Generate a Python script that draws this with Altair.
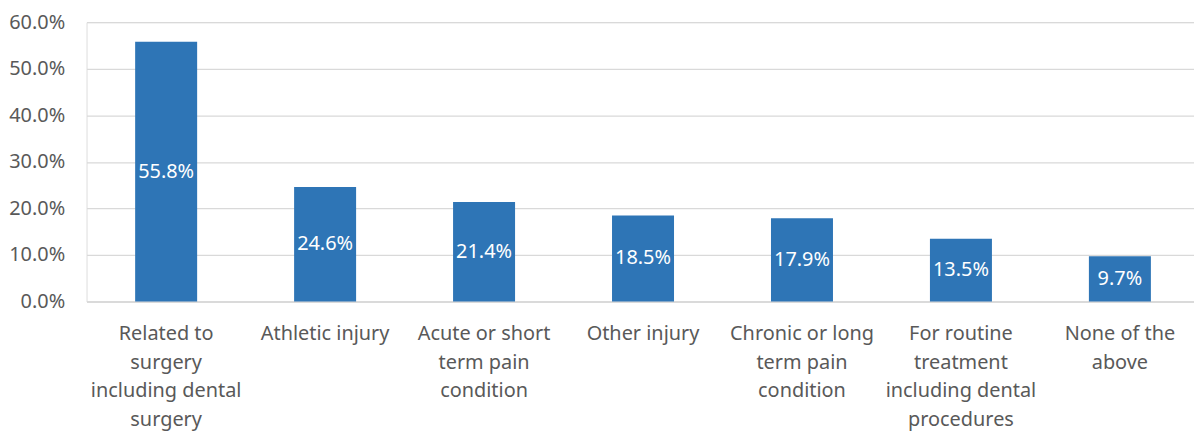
import altair as alt
import pandas as pd

categories = [
    "Related to surgery including dental surgery",
    "Athletic injury",
    "Acute or short term pain condition",
    "Other injury",
    "Chronic or long term pain condition",
    "For routine treatment including dental procedures",
    "None of the above",
]
wrapped = [
    "Related to|surgery|including dental|surgery",
    "Athletic injury",
    "Acute or short|term pain|condition",
    "Other injury",
    "Chronic or long|term pain|condition",
    "For routine|treatment|including dental|procedures",
    "None of the|above",
]
values = [0.558, 0.246, 0.214, 0.185, 0.179, 0.135, 0.097]

df = pd.DataFrame({"cat": wrapped, "val": values})
df["half"] = df["val"] / 2

FONT = "Noto Sans"
GREY = "#595959"
FS = 20

x = alt.X(
    "cat:N",
    sort=wrapped,
    scale=alt.Scale(paddingInner=0.61, paddingOuter=0.2885, align=0.53, round=False),
    axis=alt.Axis(
        title=None,
        labelExpr="split(datum.label, '|')",
        labelAngle=0,
        labelFontSize=FS,
        labelFont=FONT,
        labelColor=GREY,
        labelPadding=22,
        labelLineHeight=29,
        labelBaseline="top",
        ticks=False,
        domainColor="#D9D9D9",
        domainWidth=1.3,
        labelLimit=300,
    ),
)

bars = alt.Chart(df).mark_bar(color="#2E75B6").encode(
    x=x,
    y=alt.Y(
        "val:Q",
        scale=alt.Scale(domain=[0, 0.6]),
        axis=alt.Axis(
            title=None,
            format=".1%",
            values=[0, 0.1, 0.2, 0.3, 0.4, 0.5, 0.6],
            labelFontSize=FS,
            labelFont=FONT,
            labelColor=GREY,
            labelPadding=22,
            ticks=False,
            domain=False,
            gridColor="#D9D9D9",
            gridWidth=1.3,
        ),
    ),
)

text = alt.Chart(df).mark_text(
    color="white", fontSize=FS, font=FONT, baseline="middle"
).encode(
    x=x,
    y=alt.Y("half:Q"),
    text=alt.Text("val:Q", format=".1%"),
)

chart = (
    alt.layer(bars, text)
    .properties(
        width=1114,
        height=281,
        autosize=alt.AutoSizeParams(type="none"),
        padding={"left": 79, "top": 13, "right": 0, "bottom": 130},
    )
    .configure_view(stroke=None)
    .configure(background="white")
)

chart.save("out.html", embed_options={"renderer": "svg", "actions": False})
